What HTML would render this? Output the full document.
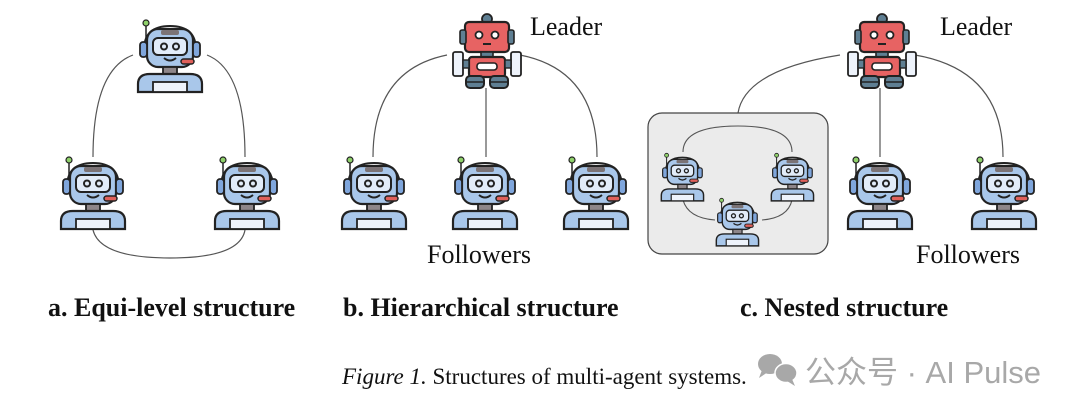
<!DOCTYPE html>
<html><head><meta charset="utf-8"><style>
body{margin:0;background:#fff;}
svg{display:block}
.t{font-family:"Liberation Serif",serif;fill:#111}
</style></head><body>
<svg width="1080" height="413" viewBox="0 0 1080 413" xmlns="http://www.w3.org/2000/svg">
<defs>
<g id="blue">
  <path d="M8 32 Q8 8 34 8 Q60 8 60 32" fill="none" stroke="#222" stroke-width="2"/>
  <line x1="10" y1="6" x2="10" y2="20" stroke="#222" stroke-width="1.5"/>
  <circle cx="10" cy="5" r="3" fill="#8fd16a" stroke="#222" stroke-width="1.2"/>
  <rect x="11" y="11" width="46" height="38" rx="11" fill="#a9c7ea" stroke="#222" stroke-width="2.2"/>
  <rect x="25" y="12" width="18" height="5" rx="2" fill="#7b7376"/>
  <rect x="17" y="20" width="34" height="17" rx="5" fill="#e2ecf9" stroke="#222" stroke-width="2"/>
  <circle cx="28" cy="28.5" r="3" fill="none" stroke="#222" stroke-width="2"/>
  <circle cx="40" cy="28.5" r="3" fill="none" stroke="#222" stroke-width="2"/>
  <path d="M28 40 Q34 45 40 40" fill="none" stroke="#222" stroke-width="2"/>
  <rect x="4" y="24" width="7" height="15" rx="3" fill="#7fa6dc" stroke="#222" stroke-width="1.8"/>
  <rect x="57" y="24" width="7" height="15" rx="3" fill="#7fa6dc" stroke="#222" stroke-width="1.8"/>
  <rect x="45" y="41" width="13" height="5" rx="2.5" fill="#e0605a" stroke="#222" stroke-width="1.5"/>
  <rect x="27" y="49" width="14" height="7" fill="#8e8689" stroke="#222" stroke-width="1.8"/>
  <path d="M2 74 L2 66 Q2 56 14 56 L54 56 Q66 56 66 66 L66 74 Z" fill="#a9c7ea" stroke="#222" stroke-width="2.2"/>
  <rect x="17" y="64" width="34" height="10" fill="#eef3fb" stroke="#222" stroke-width="1.8"/>
</g>
<g id="red">
  <circle cx="32" cy="7" r="5" fill="#5f7f93" stroke="#222" stroke-width="1.8"/>
  <rect x="10" y="10" width="44" height="30" rx="4" fill="#e76363" stroke="#222" stroke-width="2.2"/>
  <rect x="5" y="18" width="6" height="14" rx="2" fill="#5f7f93" stroke="#222" stroke-width="1.6"/>
  <rect x="53" y="18" width="6" height="14" rx="2" fill="#5f7f93" stroke="#222" stroke-width="1.6"/>
  <circle cx="24" cy="23" r="3.5" fill="#fff" stroke="#222" stroke-width="1.8"/>
  <circle cx="40" cy="23" r="3.5" fill="#fff" stroke="#222" stroke-width="1.8"/>
  <line x1="28" y1="32" x2="36" y2="32" stroke="#222" stroke-width="2"/>
  <rect x="26" y="40" width="12" height="5" fill="#5f7f93" stroke="#222" stroke-width="1.6"/>
  <rect x="14" y="45" width="36" height="20" rx="3" fill="#e76363" stroke="#222" stroke-width="2.2"/>
  <rect x="22" y="51" width="20" height="7" rx="3" fill="#fff" stroke="#222" stroke-width="1.6"/>
  <rect x="-2" y="40" width="10" height="24" rx="2" fill="#eef3fb" stroke="#222" stroke-width="1.8"/>
  <rect x="56" y="40" width="10" height="24" rx="2" fill="#eef3fb" stroke="#222" stroke-width="1.8"/>
  <rect x="8" y="48" width="6" height="8" fill="#5f7f93" stroke="#222" stroke-width="1.4"/>
  <rect x="50" y="48" width="6" height="8" fill="#5f7f93" stroke="#222" stroke-width="1.4"/>
  <rect x="11" y="64" width="18" height="12" rx="4" fill="#5f7f93" stroke="#222" stroke-width="2"/>
  <rect x="35" y="64" width="18" height="12" rx="4" fill="#5f7f93" stroke="#222" stroke-width="2"/>
  <line x1="11" y1="70" x2="29" y2="70" stroke="#222" stroke-width="1.4"/>
  <line x1="35" y1="70" x2="53" y2="70" stroke="#222" stroke-width="1.4"/>
</g>
</defs>

<g fill="none" stroke="#555" stroke-width="1.2">
  <path d="M133 55 Q93 70 93 157"/>
  <path d="M207 55 Q245 70 245 157"/>
  <path d="M93 230 Q100 258 170 258 Q240 258 245 230"/>
  <path d="M447 55 Q373 70 373 157"/>
  <path d="M486 88 L486 157"/>
  <path d="M520 55 Q597 70 597 157"/>
  <path d="M840 55 Q745 70 738 113"/>
  <path d="M880 88 L880 157"/>
  <path d="M915 55 Q1003 70 1003 157"/>
</g>

<use href="#blue" x="136" y="18"/>
<use href="#blue" x="59" y="155"/>
<use href="#blue" x="213" y="155"/>

<use href="#red" x="455" y="12"/>
<use href="#blue" x="340" y="155"/>
<use href="#blue" x="451" y="155"/>
<use href="#blue" x="562" y="155"/>

<rect x="648" y="113" width="180" height="141" rx="14" fill="#ebebeb" stroke="#444" stroke-width="1.2"/>
<g fill="none" stroke="#555" stroke-width="1.1">
  <path d="M683 152 Q683 126 738 126 Q792 126 792 152"/>
  <path d="M683 200 Q688 218 715 220"/>
  <path d="M792 200 Q788 218 762 220"/>
</g>
<use href="#blue" transform="translate(660,152) scale(0.66)"/>
<use href="#blue" transform="translate(770,152) scale(0.66)"/>
<use href="#blue" transform="translate(715,197) scale(0.66)"/>

<use href="#red" x="850" y="12"/>
<use href="#blue" x="846" y="155"/>
<use href="#blue" x="970" y="155"/>

<text class="t" x="530" y="35" font-size="26">Leader</text>
<text class="t" x="940" y="35" font-size="26">Leader</text>
<text class="t" x="427" y="263" font-size="26">Followers</text>
<text class="t" x="916" y="263" font-size="26">Followers</text>

<text class="t" x="48" y="316" font-size="26" font-weight="bold">a.  Equi-level structure</text>
<text class="t" x="343" y="316" font-size="26" font-weight="bold">b.  Hierarchical structure</text>
<text class="t" x="740" y="316" font-size="26" font-weight="bold">c.  Nested structure</text>

<text class="t" x="342" y="384" font-size="23"><tspan font-style="italic">Figure 1.</tspan> Structures of multi-agent systems.</text>

<g fill="#a8a8a8">
  <ellipse cx="770" cy="364" rx="12" ry="10"/>
  <path d="M762 370 L759 378 L768 372 Z"/>
  <ellipse cx="786" cy="373" rx="11" ry="9.5" stroke="#fff" stroke-width="1.5"/>
  <path d="M792 379 L795 386 L787 381 Z"/>
</g>
<text x="805" y="383" font-size="31" fill="#a8a8a8" font-family="'Liberation Sans','Noto Sans CJK SC',sans-serif">公众号 · AI Pulse</text>
</svg>
</body></html>
